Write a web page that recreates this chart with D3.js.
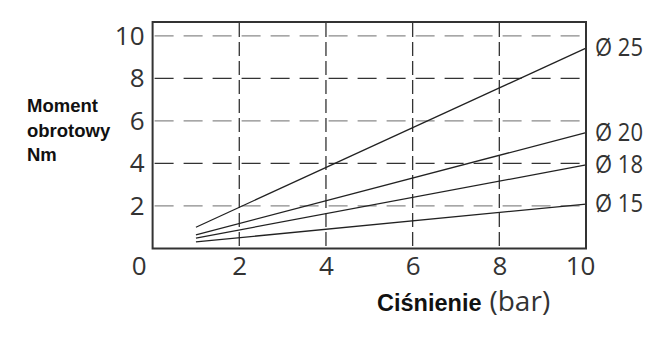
<!DOCTYPE html>
<html>
<head>
<meta charset="utf-8">
<script src="https://cdn.jsdelivr.net/npm/d3@7"></script>
<style>
  html, body { margin: 0; padding: 0; background: #fff; }
  svg { display: block; }
</style>
</head>
<body>
<svg id="chart" width="669" height="361"></svg>
<script>
// ---- data ----
const xTicks = [0, 2, 4, 6, 8, 10];
const yTicks = [2, 4, 6, 8, 10];
const pressure = [1, 10];
const seriesNames = ["Ø 25", "Ø 20", "Ø 18", "Ø 15"];
const torque25 = [1.0, 9.42];
const torque20 = [0.64, 5.45];
const torque18 = [0.49, 3.93];
const torque15 = [0.31, 2.09];
const yLabelLines = ["Moment", "obrotowy", "Nm"];
const xLabelBold = "Ciśnienie";
const xLabelUnit = "(bar)";

const seriesValues = [torque25, torque20, torque18, torque15];

// ---- layout ----
const svg = d3.select("#chart");
const pL = 152.6, pR = 586, pT = 22, pB = 248.5;
const x = d3.scaleLinear().domain([0, 10]).range([pL, pR]);
const y = d3.scaleLinear().domain([0, 10.65]).range([pB, pT]);

const tickFont = "'Open Sans', 'DejaVu Sans', sans-serif";

// grid: horizontal
const g = svg.append("g");
g.selectAll("line.h").data(yTicks).join("line")
  .attr("class", "h")
  .attr("x1", pL + 2).attr("x2", pR - 1)
  .attr("y1", d => y(d)).attr("y2", d => y(d))
  .attr("stroke", d => (d % 4 === 0) ? "#333" : "#8a8a8a")
  .attr("stroke-width", 1.3)
  .attr("stroke-dasharray", "19 10");

// grid: vertical
g.selectAll("line.v").data(xTicks.filter(d => d > 0 && d < 10)).join("line")
  .attr("class", "v")
  .attr("x1", d => x(d)).attr("x2", d => x(d))
  .attr("y1", pT + 1).attr("y2", pB - 1)
  .attr("stroke", "#333")
  .attr("stroke-width", 1.3)
  .attr("stroke-dasharray", "14 5");

// series lines
const line = d3.line().x(d => x(d[0])).y(d => y(d[1]));
svg.append("g").selectAll("path").data(seriesValues).join("path")
  .attr("d", vals => line(pressure.map((p, i) => [p, vals[i]])))
  .attr("fill", "none")
  .attr("stroke", "#222")
  .attr("stroke-width", 1.3);

// frame
svg.append("rect")
  .attr("x", pL).attr("y", pT)
  .attr("width", pR - pL).attr("height", pB - pT)
  .attr("fill", "none").attr("stroke", "#333").attr("stroke-width", 2);

// y axis tick labels
const yAxis = d3.axisLeft(y).tickValues(yTicks).tickSize(0).tickPadding(8).tickFormat(d3.format("d"));
const ya = svg.append("g").attr("transform", `translate(${pL},0)`).call(yAxis);
ya.select(".domain").remove();
ya.selectAll("text").attr("font-family", tickFont).attr("font-size", 26).attr("fill", "#333");

// x axis tick labels
const xAxis = d3.axisBottom(x).tickValues(xTicks).tickSize(0).tickPadding(8).tickFormat(d3.format("d"));
const xa = svg.append("g").attr("transform", `translate(0,${pB})`).call(xAxis);
xa.select(".domain").remove();
xa.selectAll("text").attr("font-family", tickFont).attr("font-size", 26).attr("fill", "#333")
  .attr("dx", d => d === 0 ? -14 : (d === 10 ? -6 : 0));

// series labels at the right (condensed look)
svg.append("g").selectAll("text").data(seriesNames).join("text")
  .attr("transform", (d, i) => `translate(${pR + 9},${y(seriesValues[i][1]) - 1}) scale(0.88,1)`)
  .attr("dy", "0.36em")
  .attr("font-family", tickFont)
  .attr("font-size", 25)
  .attr("fill", "#333")
  .text(d => d);

// y label
svg.append("text")
  .attr("x", 27).attr("y", 112)
  .attr("font-family", "'Liberation Sans', Arial, sans-serif")
  .attr("font-weight", "bold").attr("font-size", 18.5).attr("fill", "#111")
  .selectAll("tspan").data(yLabelLines).join("tspan")
  .attr("x", 27).attr("dy", (d, i) => i === 0 ? 0 : 24.5)
  .text(d => d);

// x label
const xl = svg.append("text")
  .attr("x", 377).attr("y", 311)
  .attr("fill", "#111");
xl.append("tspan")
  .attr("font-family", "'Liberation Sans', Arial, sans-serif")
  .attr("font-weight", "bold").attr("font-size", 23.5)
  .text(xLabelBold);
xl.append("tspan")
  .attr("dx", 8)
  .attr("font-family", tickFont)
  .attr("font-size", 28).attr("fill", "#333")
  .text(xLabelUnit);
</script>
</body>
</html>
